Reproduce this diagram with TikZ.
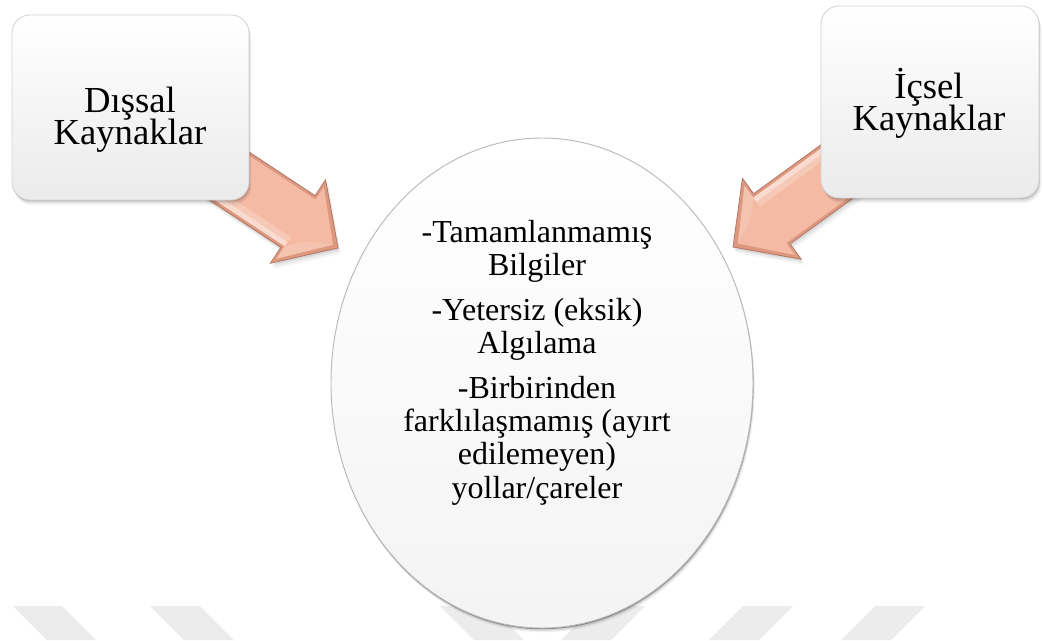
\documentclass[tikz,border=0pt]{standalone}
\usepackage{fontspec}
\setmainfont{Liberation Serif}
\usetikzlibrary{shapes.geometric,shadows}

\definecolor{peach}{RGB}{244,186,164}
\definecolor{peachdark}{RGB}{222,152,128}
\definecolor{peachedge}{RGB}{180,120,100}
\definecolor{wmark}{RGB}{236,236,236}

% keep the requested baseline distance even for tall glyphs
\AtBeginDocument{\setlength{\lineskiplimit}{-30pt}}

% block arrow: tip coordinate, rotation, local shadow offset
\newcommand\peacharrow[4]{%
  \begin{scope}[shift={#1}, rotate=#2]
    \foreach \k/\o in {1/.07,2/.05,3/.035}
      \fill[black, opacity=\o, shift={(\k*#3/2,\k*#4/2)}]
        (0,0) -- (-48,-50) -- (-48,-31) -- (-160,-31) -- (-160,31) -- (-48,31) -- (-48,50) -- cycle;
    \fill[peachdark]
      (0,0) -- (-48,-50) -- (-48,-31) -- (-160,-31) -- (-160,31) -- (-48,31) -- (-48,50) -- cycle;
    \fill[peach]
      (-6,0) -- (-45.5,-43) -- (-45.5,-28) -- (-160,-28) -- (-160,28) -- (-45.5,28) -- (-45.5,43) -- cycle;
    \fill[white, opacity=.22] (-160,17) -- (-45.5,17) -- (-45.5,28) -- (-160,28) -- cycle;
    \fill[white, opacity=.35] (-160,23) -- (-45.5,23) -- (-45.5,28) -- (-160,28) -- cycle;
    \fill[white, opacity=.15] (-6,0) -- (-45.5,43) -- (-45.5,28) -- (-30,12) -- cycle;
    \draw[peachedge, line width=.6pt, line join=miter]
      (0,0) -- (-48,-50) -- (-48,-31) -- (-160,-31) -- (-160,31) -- (-48,31) -- (-48,50) -- cycle;
  \end{scope}}

\begin{document}
\begin{tikzpicture}[x=0.75pt, y=-0.75pt,
  softshadow/.style={
    drop shadow={shadow xshift=0.5pt, shadow yshift=-1.1pt, opacity=.14, fill=black},
    drop shadow={shadow xshift=1.1pt, shadow yshift=-2.4pt, opacity=.08, fill=black},
    drop shadow={shadow xshift=1.7pt, shadow yshift=-3.8pt, opacity=.05, fill=black}},
  card/.style={rectangle, rounded corners=13.5pt, inner sep=0pt,
    draw=gray!35, line width=0.6pt,
    top color=white, middle color=white, bottom color=gray!16, softshadow},
  cardtext/.style={align=center, inner sep=0pt,
    font=\fontsize{27.5pt}{24pt}\selectfont},
  blob/.style={ellipse, inner sep=0pt, minimum width=316.5pt, minimum height=367.5pt,
    draw=gray!55, line width=0.7pt,
    top color=white, middle color=white, bottom color=gray!9,
    drop shadow={shadow xshift=0.3pt, shadow yshift=-0.9pt, opacity=.35, fill=black},
    drop shadow={shadow xshift=0.8pt, shadow yshift=-2pt, opacity=.12, fill=black},
    drop shadow={shadow xshift=1.3pt, shadow yshift=-3.2pt, opacity=.06, fill=black}},
  listtext/.style={align=center, inner sep=0pt,
    font=\fontsize{24pt}{25pt}\selectfont}]

\useasboundingbox (0,0) rectangle (1042,640);
\fill[white] (0,0) rectangle (1042,640);

% faint chevron stripes along the bottom edge
\fill[wmark] (13,606) -- (62,606) -- (96,640) -- (47,640) -- cycle;
\fill[wmark] (150,606) -- (200,606) -- (234,640) -- (184,640) -- cycle;
\fill[wmark] (440,606) -- (490,606) -- (524,640) -- (474,640) -- cycle;
\fill[wmark] (595,606) -- (645,606) -- (611,640) -- (561,640) -- cycle;
\fill[wmark] (743,606) -- (793,606) -- (759,640) -- (709,640) -- cycle;
\fill[wmark] (875,606) -- (925,606) -- (891,640) -- (841,640) -- cycle;

% arrows pointing into the ellipse
\coordinate (ltip) at (338,248);
\coordinate (rtip) at (733,247);
\peacharrow{(ltip)}{-33.5}{3.9}{2.2}
\peacharrow{(rtip)}{-144}{0.7}{-4.4}

% source boxes
\node[card, minimum width=177.75pt, minimum height=138.75pt] (ext) at (130.5,107.5) {};
\node[card, minimum width=163.5pt, minimum height=144pt] (int) at (930,102) {};
\node[cardtext] (extlabel) at (130,119.5) {Dışsal\\Kaynaklar};
\node[cardtext] (intlabel) at (929,103.2) {İçsel\\Kaynaklar};

% central ellipse with its list
\node[blob] (core) at (542,383) {};
\node[listtext] (corelist) at (537,362.5) {-Tamamlanmamış\\Bilgiler\\[8.6pt]-Yetersiz (eksik)\\Algılama\\[8.6pt]-Birbirinden\\farklılaşmamış (ayırt\\edilemeyen)\\yollar/çareler};

\end{tikzpicture}
\end{document}
